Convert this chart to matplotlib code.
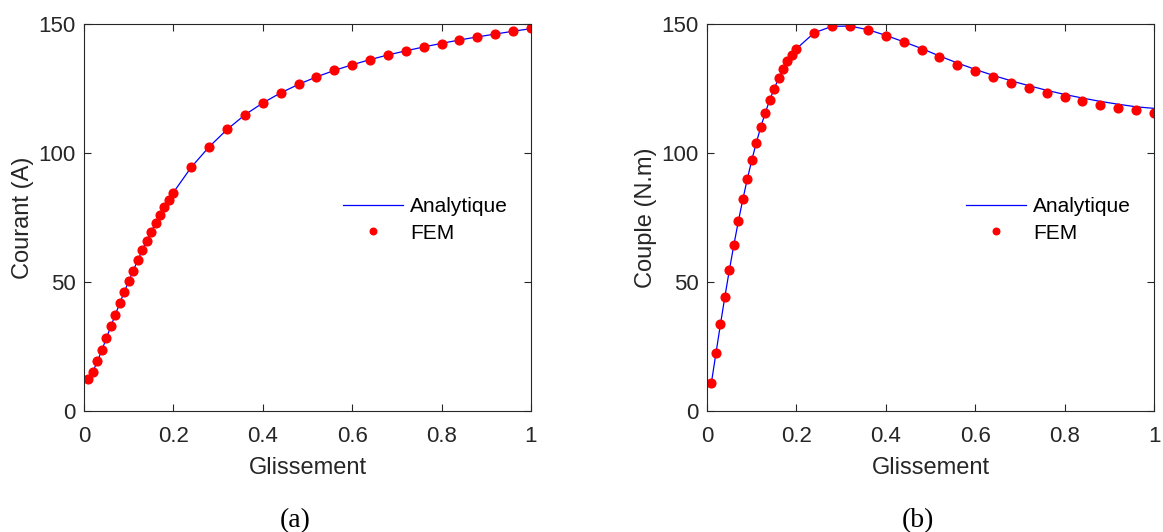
import matplotlib.pyplot as plt
import numpy as np

plt.rcParams['font.family'] = ['Liberation Sans', 'DejaVu Sans']

# glissement (slip) values
g = [0.01, 0.02, 0.03, 0.04, 0.05, 0.06, 0.07, 0.08, 0.09, 0.10,
     0.11, 0.12, 0.13, 0.14, 0.15, 0.16, 0.17, 0.18, 0.19, 0.20,
     0.24, 0.28, 0.32, 0.36, 0.40, 0.44, 0.48, 0.52, 0.56, 0.60,
     0.64, 0.68, 0.72, 0.76, 0.80, 0.84, 0.88, 0.92, 0.96, 1.00]

# courant (A)
courant_fem = [12.3, 15.2, 19.3, 23.6, 28.3, 32.8, 37.3, 41.9, 46.1, 50.4,
               54.4, 58.4, 62.3, 65.9, 69.4, 72.7, 76.0, 79.0, 81.9, 84.6,
               94.4, 102.4, 109.2, 114.9, 119.4, 123.3, 126.6, 129.5, 132.0, 134.1,
               136.2, 138.0, 139.7, 141.1, 142.4, 143.8, 145.1, 146.1, 147.3, 148.4]
courant_ana = [12.2, 15.3, 19.3, 23.6, 28.2, 32.8, 37.3, 41.8, 46.1, 50.3,
               54.4, 58.3, 62.2, 65.9, 69.4, 72.8, 76.0, 79.0, 81.9, 84.7,
               94.5, 102.4, 109.1, 114.8, 119.4, 123.3, 126.6, 129.5, 132.0, 134.2,
               136.2, 138.0, 139.6, 141.1, 142.5, 143.8, 145.0, 146.1, 147.2, 148.2]

# couple (N.m)
couple_fem = [11.0, 22.5, 33.6, 44.3, 54.7, 64.3, 73.5, 82.0, 89.9, 97.2,
              103.9, 110.0, 115.5, 120.4, 124.9, 128.9, 132.4, 135.5, 138.1, 140.4,
              146.6, 149.2, 149.2, 147.7, 145.5, 142.9, 140.0, 137.1, 134.2, 131.7,
              129.3, 127.1, 125.2, 123.3, 121.6, 120.0, 118.7, 117.5, 116.5, 115.6]
couple_ana = [11.1, 22.4, 33.5, 44.3, 54.6, 64.3, 73.4, 81.9, 89.8, 97.1,
              103.8, 109.9, 115.4, 120.4, 124.8, 128.8, 132.3, 135.4, 138.1, 140.4,
              146.6, 149.1, 149.2, 147.8, 145.6, 143.1, 140.5, 137.6, 134.9, 132.4,
              130.1, 128.0, 126.1, 124.3, 122.7, 121.3, 120.0, 118.9, 117.9, 117.3]

ylabels = ['Courant (A)', 'Couple (N.m)']
captions = ['(a)', '(b)']

fig = plt.figure(figsize=(11.63, 5.32), dpi=100)
ax1 = fig.add_axes([84/1163, 121/532, 447/1163, 387/532])
ax2 = fig.add_axes([707/1163, 121/532, 447/1163, 387/532])

for ax, ana, fem, yl, cap in zip([ax1, ax2], [courant_ana, couple_ana],
                                 [courant_fem, couple_fem], ylabels, captions):
    ax.plot(g, ana, color='#0000ff', lw=0.9, label='Analytique')
    ax.plot(g, fem, ls='none', marker='o', ms=6.3, color='#ff0000',
            mec='#ff0000', label='FEM')
    ax.set_xlim(0, 1)
    ax.set_ylim(0, 150)
    ax.set_xticks([0, 0.2, 0.4, 0.6, 0.8, 1])
    ax.set_xticklabels(['0', '0.2', '0.4', '0.6', '0.8', '1'])
    ax.set_yticks([0, 50, 100, 150])
    ax.tick_params(direction='in', length=5, width=0.8, top=True, right=True,
                   labelsize=16, labelcolor='#262626', color='#262626')
    ax.tick_params(axis='x', pad=11)
    ax.tick_params(axis='y', pad=6)
    for s in ax.spines.values():
        s.set_color('#262626')
        s.set_linewidth(0.8)
    ax.set_xlabel('Glissement', fontsize=17, color='#262626', labelpad=7)
    ax.set_ylabel(yl, fontsize=17, color='#262626', labelpad=3)
    ax.legend(loc='upper left', bbox_to_anchor=(0.58, 0.552), frameon=False,
              fontsize=15, handlelength=2.85, handletextpad=0.35,
              labelspacing=0.35, markerscale=0.75, borderpad=0, borderaxespad=0)
    ax.text(0.473, -0.282, cap, transform=ax.transAxes, ha='center', va='center',
            fontsize=20, family=['Liberation Serif', 'DejaVu Serif'])

fig.savefig('out.png', dpi=100)
